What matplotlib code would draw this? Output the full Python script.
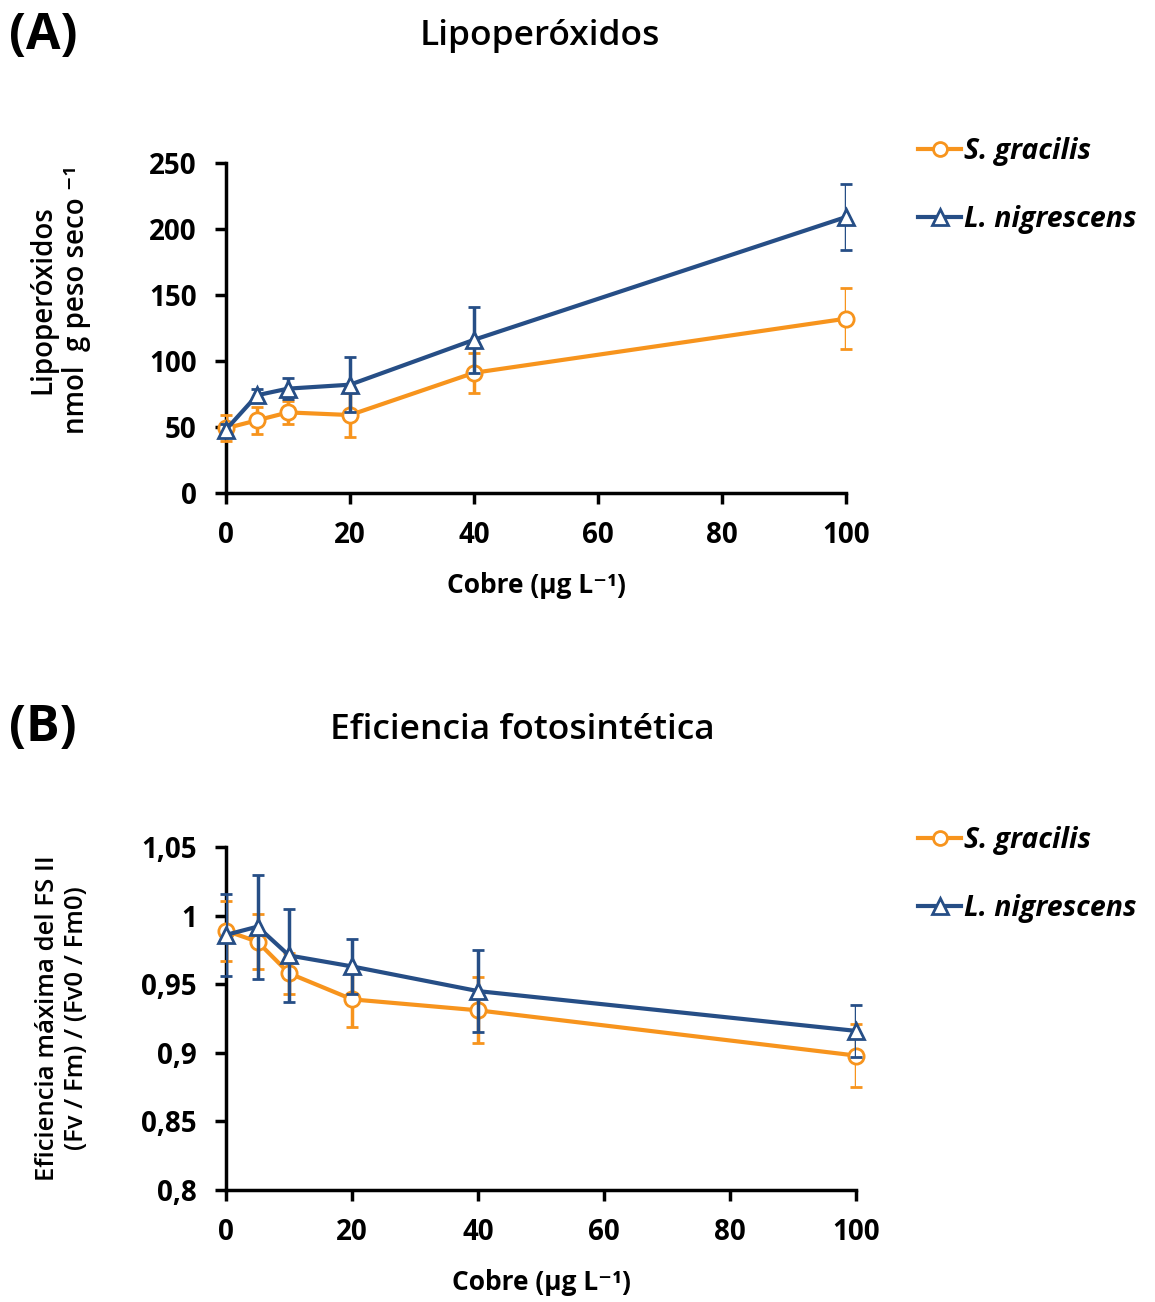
import numpy as np
import matplotlib
matplotlib.use("Agg")
import matplotlib.pyplot as plt
from matplotlib.lines import Line2D

plt.rcParams['font.family'] = ['Open Sans', 'DejaVu Sans']

cobre = [0, 5, 10, 20, 40, 100]

# (A) lipoperoxidos
lipo_sg = [49, 55, 61, 59, 91, 132]
lipo_sg_err = [10, 10, 9, 17, 15, 23]
lipo_ln = [48, 74, 79, 82, 116, 209]
lipo_ln_err = [4, 5, 8, 21, 25, 25]

# (B) eficiencia fotosintetica
efi_sg = [0.989, 0.981, 0.958, 0.939, 0.931, 0.898]
efi_sg_err = [0.022, 0.02, 0.015, 0.02, 0.024, 0.023]
efi_ln = [0.986, 0.992, 0.971, 0.963, 0.945, 0.916]
efi_ln_err = [0.03, 0.038, 0.034, 0.02, 0.03, 0.019]

naranja = '#F7941D'
azul = '#264E86'

fig = plt.figure(figsize=(11.55, 13.02), dpi=100)
axA = fig.add_axes([0.1957, 0.6214, 0.5368, 0.2535])
axB = fig.add_axes([0.1957, 0.086, 0.5455, 0.2634])


def dibujar(ax, ysg, esg, yln, eln):
    ax.errorbar(cobre, ysg, yerr=esg, color=naranja, lw=3, marker='o', ms=11,
                mfc='white', mec=naranja, mew=2, elinewidth=2.5, capsize=4,
                capthick=2.5, zorder=3)
    ax.errorbar(cobre, yln, yerr=eln, color=azul, lw=3, marker='^', ms=12,
                mfc='white', mec=azul, mew=2, elinewidth=2.5, capsize=4,
                capthick=2.5, zorder=4)
    for s in ['top', 'right']:
        ax.spines[s].set_visible(False)
    for s in ['left', 'bottom']:
        ax.spines[s].set_linewidth(2.5)
        ax.spines[s].set_clip_on(False)
    ax.tick_params(width=2.5, length=8, labelsize=20)
    ax.tick_params(axis='x', pad=12)
    ax.tick_params(axis='y', pad=13)
    ax.set_xlim(0, 100)
    ax.set_xticks([0, 20, 40, 60, 80, 100])
    ax.set_xlabel('Cobre (µg L⁻¹)', fontsize=19, fontweight='bold', labelpad=16)
    for line in ax.lines:
        line.set_clip_on(False)


dibujar(axA, lipo_sg, lipo_sg_err, lipo_ln, lipo_ln_err)
axA.set_ylim(0, 250)
axA.set_yticks([0, 50, 100, 150, 200, 250])
axA.set_ylabel('Lipoperóxidos\nnmol  g peso seco ⁻¹', fontsize=20,
               fontweight='semibold', linespacing=1.2)
axA.yaxis.set_label_coords(-0.218, 0.585)

dibujar(axB, efi_sg, efi_sg_err, efi_ln, efi_ln_err)
axB.set_ylim(0.8, 1.05)
axB.set_yticks([0.8, 0.85, 0.9, 0.95, 1.0, 1.05])
axB.set_yticklabels(['0,8', '0,85', '0,9', '0,95', '1', '1,05'])
axB.set_ylabel('Eficiencia máxima del FS II\n(Fv / Fm) / (Fv0 / Fm0)', fontsize=18.5,
               fontweight='semibold', linespacing=1.2)
axB.yaxis.set_label_coords(-0.218, 0.5)

for ax in (axA, axB):
    for t in ax.get_xticklabels() + ax.get_yticklabels():
        t.set_fontweight('bold')

fig.text(0.467, 0.972, 'Lipoperóxidos', fontsize=25.5, fontweight='semibold', ha='center', va='center')
fig.text(0.452, 0.439, 'Eficiencia fotosintética', fontsize=25.5, fontweight='semibold', ha='center', va='center')
fig.text(0.008, 0.972, '(A)', fontsize=36, fontweight='bold', ha='left', va='center')
fig.text(0.008, 0.441, '(B)', fontsize=36, fontweight='bold', ha='left', va='center')

handles = [Line2D([], [], color=naranja, lw=3, marker='o', ms=10, mfc='white', mew=2),
           Line2D([], [], color=azul, lw=3, marker='^', ms=11, mfc='white', mew=2)]
nombres = ['S. gracilis', 'L. nigrescens']
for ax, ytop in [(axA, 0.895), (axB, 0.3655)]:
    leg = ax.legend(handles, nombres, loc='upper left', bbox_to_anchor=(0.795, ytop),
                    bbox_transform=fig.transFigure, frameon=False, fontsize=20.5,
                    handlelength=1.5, handletextpad=0.1, labelspacing=1.38, borderpad=0,
                    borderaxespad=0)
    for t in leg.get_texts():
        t.set_fontstyle('italic')
        t.set_fontweight('bold')

fig.savefig('out.png', dpi=100)
